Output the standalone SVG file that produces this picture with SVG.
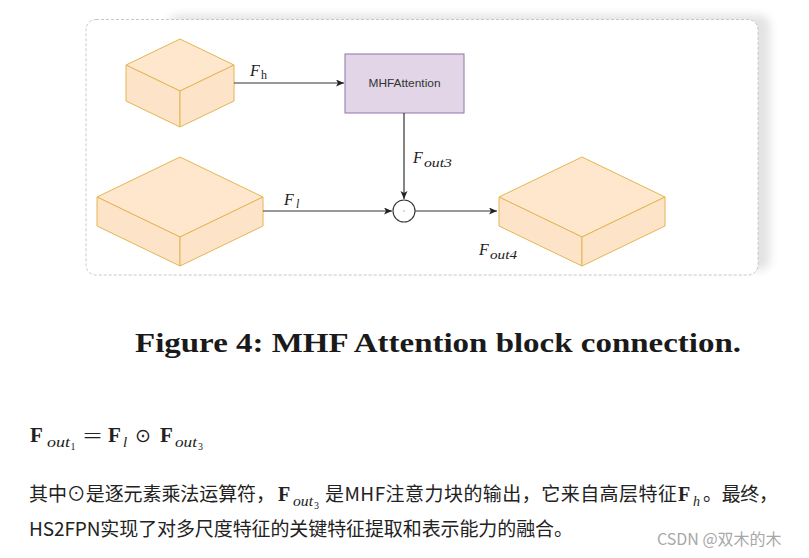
<svg xmlns="http://www.w3.org/2000/svg" width="809" height="558" viewBox="0 0 809 558">
  <defs>
    <filter id="shadow" x="-10%" y="-10%" width="120%" height="120%">
      <feGaussianBlur stdDeviation="5"/>
    </filter>
    <marker id="arrow" markerUnits="userSpaceOnUse" markerWidth="9" markerHeight="8" refX="8" refY="3.5" orient="auto">
      <path d="M0,0 L8,3.5 L0,7 L2,3.5 z" fill="#222"/>
    </marker>
  </defs>
  <style>
    .face { fill: #fde4c8; stroke: #e3b652; stroke-width: 1; stroke-linejoin: round; }
    .top { fill: #fee7cd; }
    .edge { fill: none; stroke: #333; stroke-width: 1.2; }
    .mi { font-family: "Liberation Serif", "DejaVu Serif", serif; font-style: italic; fill: #222; }
    .mr { font-family: "Liberation Serif", "DejaVu Serif", serif; fill: #222; }
    .mb { font-family: "Liberation Serif", "DejaVu Serif", serif; font-weight: bold; fill: #222; }
    .zh { font-family: "Noto Sans CJK SC", "Noto Sans", sans-serif; font-size: 19px; fill: #222; }
  </style>
  <rect width="809" height="558" fill="#fff"/>

  <!-- frame -->
  <rect x="168" y="15" width="602" height="255" rx="10" fill="#000" opacity="0.11" filter="url(#shadow)"/>
  <rect x="86" y="19.5" width="672" height="255.5" rx="10" fill="#fff" stroke="#c8c8c8" stroke-width="1" stroke-dasharray="3 2"/>

  <!-- nodes -->
  <g id="cube-high">
    <polygon class="face top" points="126,65 180,39 234,65 180,91"/>
    <polygon class="face" points="126,65 180,91 180,127 126,101"/>
    <polygon class="face" points="180,91 234,65 234,101 180,127"/>
  </g>
  <g id="cube-low">
    <polygon class="face top" points="97,197 180,157 263,197 180,237"/>
    <polygon class="face" points="97,197 180,237 180,266 97,226"/>
    <polygon class="face" points="180,237 263,197 263,226 180,266"/>
  </g>
  <g id="cube-out">
    <polygon class="face top" points="499,197 582,157 665,197 582,237"/>
    <polygon class="face" points="499,197 582,237 582,266 499,226"/>
    <polygon class="face" points="582,237 665,197 665,226 582,266"/>
  </g>
  <g id="mhf-attention">
    <rect x="345" y="54" width="119" height="59" fill="#e1d5e7" stroke="#9673a6" stroke-width="1"/>
    <text x="404.5" y="87" text-anchor="middle" font-family="Liberation Sans, Arial, sans-serif" font-size="11" fill="#333" textLength="72" lengthAdjust="spacingAndGlyphs">MHFAttention</text>
  </g>
  <g id="multiply">
    <circle cx="404" cy="211" r="11" fill="#fff" stroke="#333" stroke-width="1.1"/>
    <circle cx="404" cy="211" r="0.8" fill="#aaa"/>
  </g>

  <!-- connectors -->
  <g id="connectors">
    <path class="edge" d="M234,83 H344" marker-end="url(#arrow)"/>
    <path class="edge" d="M404,113 V199" marker-end="url(#arrow)"/>
    <path class="edge" d="M263,211 H392" marker-end="url(#arrow)"/>
    <path class="edge" d="M415,211 H497" marker-end="url(#arrow)"/>
    <text class="mi" x="250" y="76" font-size="16">F</text>
    <text class="mr" x="261" y="79" font-size="12">h</text>
    <text class="mi" x="284" y="205" font-size="16">F</text>
    <text class="mi" x="296" y="208" font-size="12">l</text>
    <text class="mi" x="413" y="163" font-size="16">F</text>
    <text class="mi" x="424" y="167" font-size="12.5" textLength="28" lengthAdjust="spacingAndGlyphs">out3</text>
    <text class="mi" x="479" y="255" font-size="16">F</text>
    <text class="mi" x="490" y="259" font-size="12.5" textLength="27" lengthAdjust="spacingAndGlyphs">out4</text>
  </g>

  <!-- caption -->
  <text x="135" y="352" font-family="Liberation Serif, Times New Roman, serif" font-weight="bold" font-size="28" fill="#1a1a1a" textLength="606" lengthAdjust="spacingAndGlyphs">Figure 4: MHF Attention block connection.</text>

  <!-- formula -->
  <text class="mb" x="30" y="442" font-size="21">F</text>
  <text class="mi" x="47" y="447" font-size="15" textLength="23" lengthAdjust="spacingAndGlyphs">out</text>
  <text class="mr" x="70.5" y="450" font-size="10">1</text>
  <text class="mr" x="83" y="443" font-size="22" textLength="19" lengthAdjust="spacingAndGlyphs">=</text>
  <text class="mb" x="108" y="442" font-size="21">F</text>
  <text class="mi" x="123" y="447" font-size="15">l</text>
  <text x="135" y="442" font-family="DejaVu Sans, sans-serif" font-size="19" fill="#222">⊙</text>
  <text class="mb" x="160" y="442" font-size="21">F</text>
  <text class="mi" x="175" y="447" font-size="15" textLength="22" lengthAdjust="spacingAndGlyphs">out</text>
  <text class="mr" x="198" y="450" font-size="10">3</text>

  <!-- paragraph line 1 -->
  <text class="zh" x="29" y="501" textLength="246">其中⊙是逐元素乘法运算符，</text>
  <text class="mb" x="278" y="501" font-size="20">F</text>
  <text class="mi" x="293" y="506" font-size="14" textLength="20" lengthAdjust="spacingAndGlyphs">out</text>
  <text class="mr" x="314" y="509" font-size="10">3</text>
  <text class="zh" x="325" y="501" textLength="352">是MHF注意力块的输出，它来自高层特征</text>
  <text class="mb" x="678" y="501" font-size="20">F</text>
  <text class="mi" x="693" y="506" font-size="14">h</text>
  <text class="zh" x="703" y="501" textLength="75">。最终，</text>

  <!-- paragraph line 2 -->
  <text class="zh" x="29" y="536" textLength="544">HS2FPN实现了对多尺度特征的关键特征提取和表示能力的融合。</text>

  <!-- watermark -->
  <text x="657" y="545" font-family="Noto Sans CJK SC, Noto Sans, sans-serif" font-size="16" fill="#a8a8a8">CSDN @双木的木</text>
</svg>
